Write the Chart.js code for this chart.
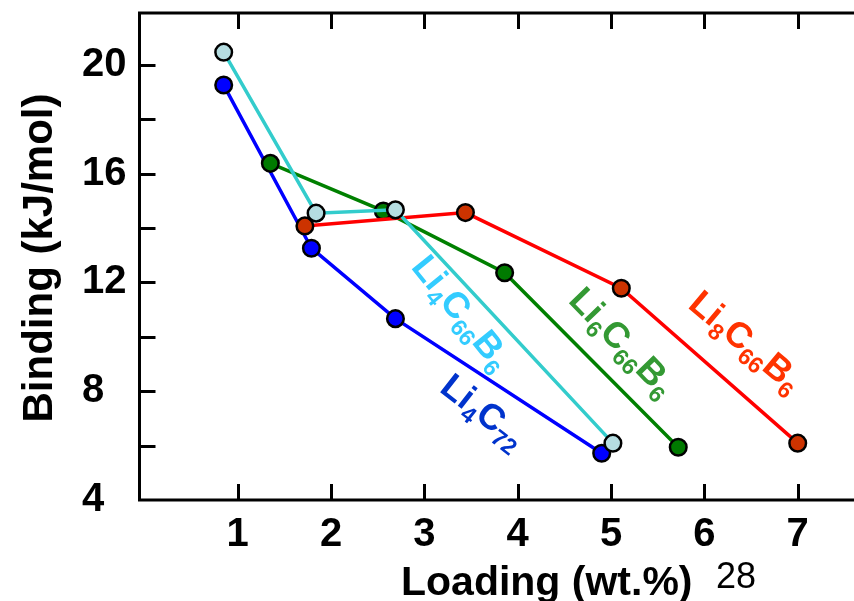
<!DOCTYPE html>
<html>
<head>
<meta charset="utf-8">
<script src="https://cdn.jsdelivr.net/npm/chart.js@4/dist/chart.umd.min.js"></script>
<style>
  html, body { margin: 0; padding: 0; background: #fff; overflow: hidden; }
  canvas { display: block; }
</style>
</head>
<body>
<canvas id="c" width="854" height="601"></canvas>
<script>
// ---- data ----
const xTickValues = [1, 2, 3, 4, 5, 6, 7];
const yTickValues = [4, 8, 12, 16, 20];
const yMinorTicks = [6, 10, 14, 18];

const li4c72X = [0.85, 1.79, 2.69, 4.90];
const li4c72Y = [19.26, 13.26, 10.67, 5.72];

const li4c66b6X = [0.85, 1.84, 2.69, 5.02];
const li4c66b6Y = [20.47, 14.55, 14.67, 6.09];

const li6c66b6X = [1.35, 2.56, 3.86, 5.72];
const li6c66b6Y = [16.38, 14.63, 12.36, 5.94];

const li8c66b6X = [1.72, 3.44, 5.11, 7.00];
const li8c66b6Y = [14.08, 14.57, 11.79, 6.09];

const xTitle = 'Loading (wt.%)';
const yTitle = 'Binding (kJ/mol)';
const pageNote = '28';

// series labels: text parts [text, isSubscript]
const labelParts = {
  li4c72:   [['Li',0],['4',1],['C',0],['72',1]],
  li4c66b6: [['Li',0],['4',1],['C',0],['66',1],['B',0],['6',1]],
  li6c66b6: [['Li',0],['6',1],['C',0],['66',1],['B',0],['6',1]],
  li8c66b6: [['Li',0],['8',1],['C',0],['66',1],['B',0],['6',1]]
};
// anchor (data units) and angle (deg)
const labelAnchors = {
  li4c72:   {x: 3.15, y: 8.02, a: 38, color: '#0033cc'},
  li4c66b6: {x: 2.85, y: 12.55, a: 51, color: '#33ccff'},
  li6c66b6: {x: 4.53, y: 11.30, a: 46, color: '#339933'},
  li8c66b6: {x: 5.81, y: 11.10, a: 40, color: '#ff3300'}
};

const FONT = '"Liberation Sans", Arial, Helvetica, sans-serif';

function pts(xs, ys) { return xs.map((x, i) => ({x: x, y: ys[i]})); }

const axesPlugin = {
  id: 'axesPlugin',
  beforeDatasetsDraw(chart) {
    const {ctx, chartArea: a, scales: {x, y}} = chart;
    ctx.save();
    ctx.strokeStyle = '#000';
    ctx.lineWidth = 3;
    ctx.lineCap = 'butt';
    ctx.beginPath();
    ctx.moveTo(a.left, a.top); ctx.lineTo(a.left, a.bottom + 1.5);
    ctx.moveTo(a.left - 1.5, a.bottom); ctx.lineTo(a.right, a.bottom);
    ctx.moveTo(a.left - 1.5, a.top); ctx.lineTo(a.right, a.top);
    xTickValues.forEach(v => {
      const px = Math.round(x.getPixelForValue(v)) + 0.5;
      ctx.moveTo(px, a.bottom); ctx.lineTo(px, a.bottom - 16);
      ctx.moveTo(px, a.top); ctx.lineTo(px, a.top + 16);
    });
    yTickValues.concat(yMinorTicks).forEach(v => {
      if (v <= y.min) return;
      const py = Math.round(y.getPixelForValue(v)) + 0.5;
      ctx.moveTo(a.left, py); ctx.lineTo(a.left + 16, py);
    });
    ctx.stroke();
    ctx.restore();
  },
  afterDraw(chart) {
    const {ctx, scales: {x, y}} = chart;
    ctx.save();
    ctx.fillStyle = '#000';
    ctx.textBaseline = 'alphabetic';
    ctx.font = 'bold 41px ' + FONT;
    ctx.textAlign = 'left';
    ctx.fillText(xTitle, 401, 595);
    ctx.font = '36px ' + FONT;
    ctx.fillText(pageNote, 716, 588);
    ctx.save();
    ctx.translate(52, 258);
    ctx.rotate(-Math.PI / 2);
    ctx.font = 'bold 42px ' + FONT;
    ctx.textAlign = 'center';
    ctx.fillText(yTitle, 0, 0);
    ctx.restore();
    Object.keys(labelParts).forEach(k => {
      const an = labelAnchors[k];
      const px = x.getPixelForValue(an.x), py = y.getPixelForValue(an.y);
      ctx.save();
      ctx.translate(px, py);
      ctx.rotate(an.a * Math.PI / 180);
      ctx.fillStyle = an.color;
      ctx.textAlign = 'left';
      let cx = 0;
      labelParts[k].forEach(([t, sub]) => {
        ctx.font = sub ? 'bold 23px ' + FONT : 'bold 36px ' + FONT;
        ctx.fillText(t, cx, sub ? 8 : 0);
        cx += ctx.measureText(t).width;
      });
      ctx.restore();
    });
    ctx.restore();
  }
};

const tickFont = {family: FONT, size: 40, weight: 'bold'};

function zeroPad(s) { s.paddingTop = 0; s.paddingBottom = 0; s.paddingLeft = 0; s.paddingRight = 0; }

new Chart(document.getElementById('c'), {
  type: 'line',
  data: {
    datasets: [
      {label: 'Li4C66B6', data: pts(li4c66b6X, li4c66b6Y), borderColor: '#33cccc', backgroundColor: '#b5dde1',
       pointBackgroundColor: '#b5dde1', order: 1},
      {label: 'Li8C66B6', data: pts(li8c66b6X, li8c66b6Y), borderColor: '#ff0000', backgroundColor: '#cc3300',
       pointBackgroundColor: '#cc3300', order: 2},
      {label: 'Li6C66B6', data: pts(li6c66b6X, li6c66b6Y), borderColor: '#008000', backgroundColor: '#008000',
       pointBackgroundColor: '#007a00', order: 3},
      {label: 'Li4C72', data: pts(li4c72X, li4c72Y), borderColor: '#0000ff', backgroundColor: '#0000ff',
       pointBackgroundColor: '#0000ff', order: 4}
    ].map(d => Object.assign({
      borderWidth: 3.5, pointRadius: 8.3, pointBorderColor: '#000', pointBorderWidth: 2.5,
      fill: false, tension: 0, showLine: true, clip: false
    }, d))
  },
  options: {
    responsive: false,
    animation: false,
    layout: {autoPadding: false, padding: {left: 82, right: 0, top: 13, bottom: 51}},
    plugins: {legend: {display: false}, tooltip: {enabled: false}},
    scales: {
      x: {
        type: 'linear', min: -0.052, max: 7.603,
        grid: {display: false, drawTicks: false}, border: {display: false},
        afterBuildTicks: s => { s.ticks = xTickValues.map(v => ({value: v})); },
        afterFit: s => { s.height = 50; zeroPad(s); },
        ticks: {font: tickFont, color: '#000', padding: 11, maxRotation: 0, autoSkip: false}
      },
      y: {
        type: 'linear', min: 4, max: 21.91,
        grid: {display: false, drawTicks: false}, border: {display: false},
        afterBuildTicks: s => { s.ticks = yTickValues.map(v => ({value: v})); },
        afterFit: s => { s.width = 57.5; zeroPad(s); },
        ticks: {font: tickFont, color: '#000', padding: 12, crossAlign: 'far', autoSkip: false}
      }
    }
  },
  plugins: [axesPlugin]
});
</script>
</body>
</html>
